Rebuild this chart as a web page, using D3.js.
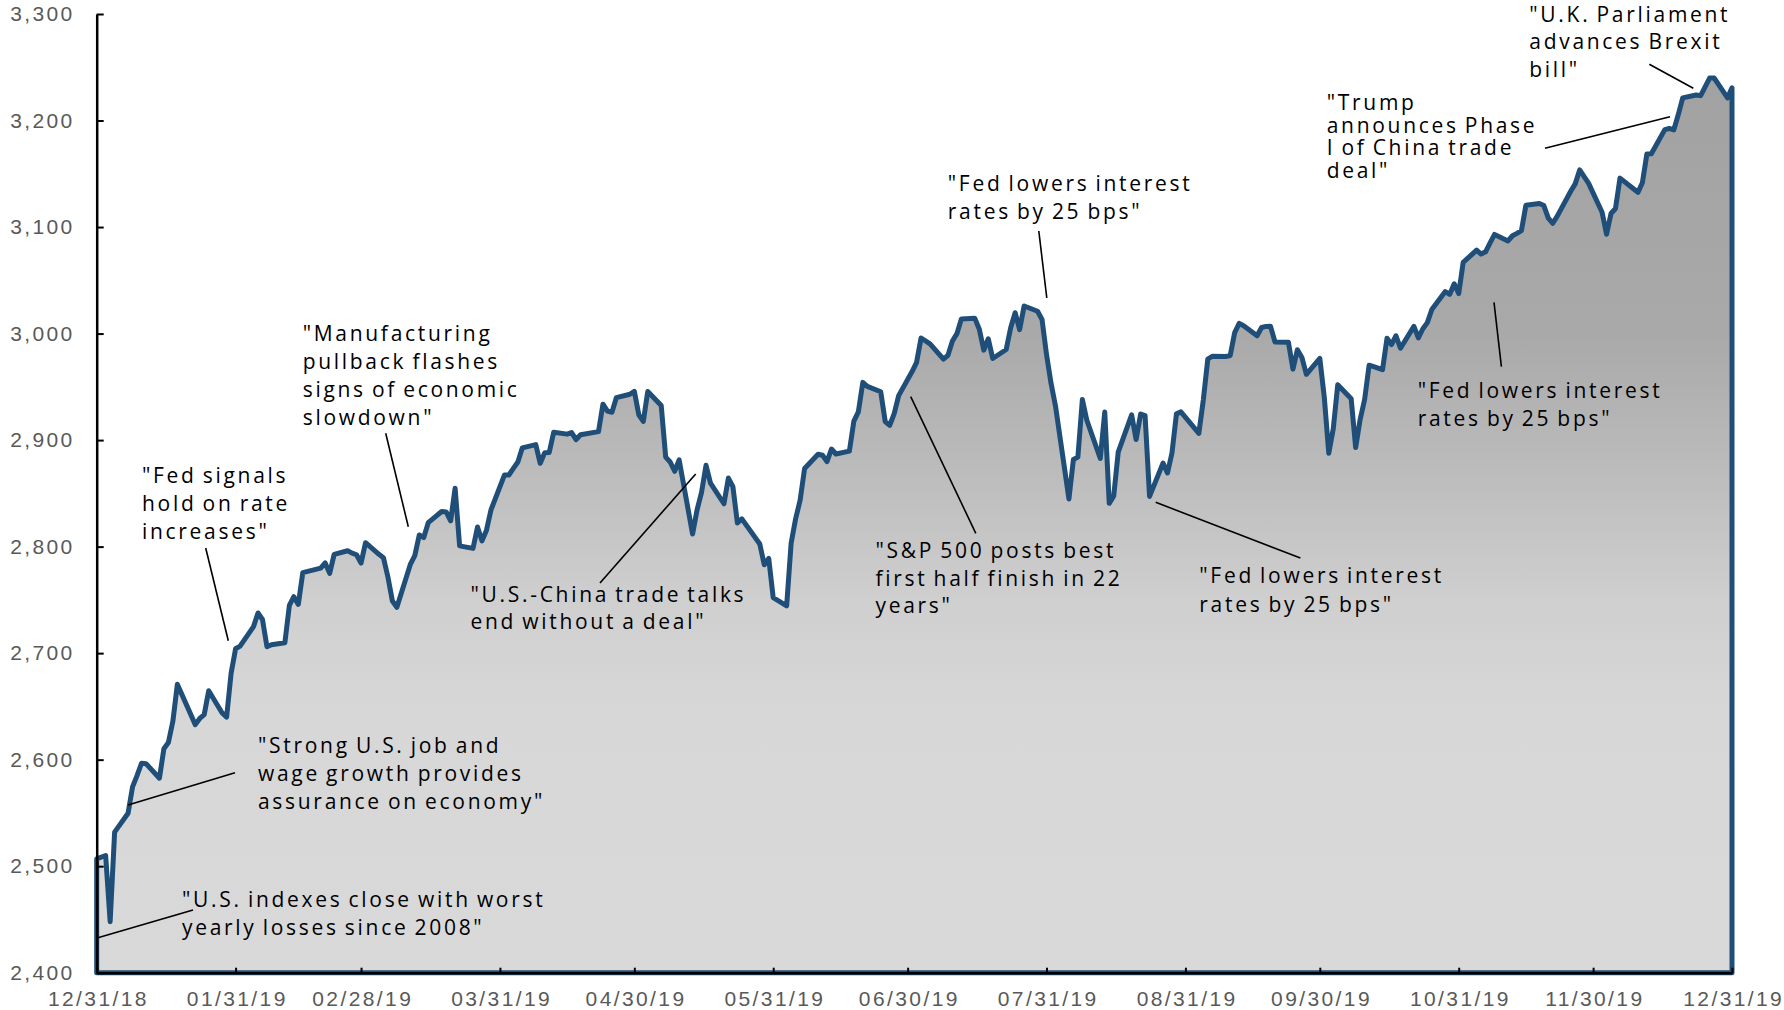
<!DOCTYPE html>
<html><head><meta charset="utf-8">
<script src="https://cdn.jsdelivr.net/npm/d3@7"></script>
<style>body{margin:0;background:#fff}svg{display:block}</style>
</head><body>
<svg id="chart" width="1784" height="1010"></svg>
<script>
// ---------- DATA (S&P 500 daily closes) ----------
const dec18Days = [31];
const dec18Closes = [2506.85];
const jan19Days = [2,3,4,7,8,9,10,11,14,15,16,17,18,22,23,24,25,28,29,30,31];
const jan19Closes = [2510.03,2447.89,2531.94,2549.69,2574.41,2584.96,2596.64,2596.26,2582.61,2610.30,2616.10,2635.96,2670.71,2632.90,2638.70,2642.33,2664.76,2643.85,2640.00,2681.05,2704.10];
const feb19Days = [1,4,5,6,7,8,11,12,13,14,15,19,20,21,22,25,26,27,28];
const feb19Closes = [2706.53,2724.87,2737.70,2731.61,2706.05,2707.88,2709.80,2744.73,2753.03,2745.73,2775.60,2779.76,2784.70,2774.88,2792.67,2796.11,2793.90,2792.38,2784.49];
const mar19Days = [1,4,5,6,7,8,11,12,13,14,15,18,19,20,21,22,25,26,27,28,29];
const mar19Closes = [2803.69,2792.81,2789.65,2771.45,2748.93,2743.07,2783.30,2791.52,2810.92,2808.48,2822.48,2832.94,2832.57,2824.23,2854.88,2800.71,2798.36,2818.46,2805.37,2815.44,2834.40];
const apr19Days = [1,2,3,4,5,8,9,10,11,12,15,16,17,18,22,23,24,25,26,29,30];
const apr19Closes = [2867.19,2867.24,2873.40,2879.39,2892.74,2895.77,2878.20,2888.21,2888.32,2907.41,2905.58,2907.06,2900.45,2905.03,2907.97,2933.68,2927.25,2926.17,2939.88,2943.03,2945.83];
const may19Days = [1,2,3,6,7,8,9,10,13,14,15,16,17,20,21,22,23,24,28,29,30,31];
const may19Closes = [2923.73,2917.52,2945.64,2932.47,2884.05,2879.42,2870.72,2881.40,2811.87,2834.41,2850.96,2876.32,2859.53,2840.23,2864.36,2856.27,2822.24,2826.06,2802.39,2783.02,2788.86,2752.06];
const jun19Days = [3,4,5,6,7,10,11,12,13,14,17,18,19,20,21,24,25,26,27,28];
const jun19Closes = [2744.45,2803.27,2826.15,2843.49,2873.34,2886.73,2885.72,2879.84,2891.64,2886.98,2889.67,2917.75,2926.46,2954.18,2950.46,2945.35,2917.38,2913.78,2924.92,2941.76];
const jul19Days = [1,2,3,5,8,9,10,11,12,15,16,17,18,19,22,23,24,25,26,29,30,31];
const jul19Closes = [2964.33,2973.01,2995.82,2990.41,2975.95,2979.63,2993.07,2999.91,3013.77,3014.30,3004.04,2984.42,2995.11,2976.61,2985.03,3005.47,3019.56,3003.67,3025.86,3020.97,3013.18,2980.38];
const aug19Days = [1,2,5,6,7,8,9,12,13,14,15,16,19,20,21,22,23,26,27,28,29,30];
const aug19Closes = [2953.56,2932.05,2844.74,2881.77,2883.98,2938.09,2918.65,2882.70,2926.32,2840.60,2847.60,2888.68,2923.65,2900.51,2924.43,2922.95,2847.11,2878.38,2869.16,2887.94,2924.58,2926.46];
const sep19Days = [3,4,5,6,9,10,11,12,13,16,17,18,19,20,23,24,25,26,27,30];
const sep19Closes = [2906.27,2937.78,2976.00,2978.71,2978.43,2979.39,3000.93,3009.57,3007.39,2997.96,3005.70,3006.73,3006.79,2992.07,2991.78,2966.60,2984.87,2977.62,2961.79,2976.74];
const oct19Days = [1,2,3,4,7,8,9,10,11,14,15,16,17,18,21,22,23,24,25,28,29,30,31];
const oct19Closes = [2940.25,2887.61,2910.63,2952.01,2938.79,2893.06,2919.40,2938.13,2970.27,2966.15,2995.68,2989.69,2997.95,2986.20,3006.72,2995.99,3004.52,3010.29,3022.55,3039.42,3036.89,3046.77,3037.56];
const nov19Days = [1,4,5,6,7,8,11,12,13,14,15,18,19,20,21,22,25,26,27,29];
const nov19Closes = [3066.91,3078.27,3074.62,3076.78,3085.18,3093.08,3087.01,3091.84,3094.04,3096.63,3120.46,3122.03,3120.18,3108.46,3103.54,3110.29,3133.64,3140.52,3153.63,3140.98];
const dec19Days = [2,3,4,5,6,9,10,11,12,13,16,17,18,19,20,23,24,26,27,30,31];
const dec19Closes = [3113.87,3093.20,3112.76,3117.43,3145.91,3135.96,3132.52,3141.63,3168.57,3168.80,3191.45,3192.52,3191.14,3205.37,3221.22,3224.01,3223.38,3239.91,3240.02,3221.29,3230.78];

const xTickLabels = ["12/31/18","01/31/19","02/28/19","03/31/19","04/30/19","05/31/19","06/30/19","07/31/19","08/31/19","09/30/19","10/31/19","11/30/19","12/31/19"];
const yTickValues = [2400,2500,2600,2700,2800,2900,3000,3100,3200,3300];

const annotationTexts = [
  ['"U.S. indexes close with worst', 'yearly losses since 2008"'],
  ['"Strong U.S. job and', 'wage growth provides', 'assurance on economy"'],
  ['"Fed signals', 'hold on rate', 'increases"'],
  ['"Manufacturing', 'pullback flashes', 'signs of economic', 'slowdown"'],
  ['"U.S.-China trade talks', 'end without a deal"'],
  ['"S&P 500 posts best', 'first half finish in 22', 'years"'],
  ['"Fed lowers interest', 'rates by 25 bps"'],
  ['"Fed lowers interest', 'rates by 25 bps"'],
  ['"Fed lowers interest', 'rates by 25 bps"'],
  ['"Trump', 'announces Phase', 'I of China trade', 'deal"'],
  ['"U.K. Parliament', 'advances Brexit', 'bill"']
];

// ---------- LAYOUT / STYLE ----------
const annotationLayout = [
  {x:182, y:907, lh:27.5, leader:[97,938,193,910]},
  {x:258, y:753, lh:28, leader:[128,805,235,772.7]},
  {x:142, y:483, lh:28, leader:[205.7,548,228.3,640.7]},
  {x:302.7, y:341, lh:28, leader:[385.7,433.3,408.3,526.7]},
  {x:470.5, y:601.5, lh:27.5, leader:[600,583,695.7,474]},
  {x:875.5, y:558, lh:27.5, leader:[910.7,396.7,975.8,533.3]},
  {x:947.8, y:191, lh:28, leader:[1038.8,231,1046.8,298]},
  {x:1199.3, y:583, lh:28.5, leader:[1155.7,502.3,1300.4,558]},
  {x:1417.7, y:397.7, lh:28, leader:[1494,302.3,1501.4,366.7]},
  {x:1326.7, y:110, lh:22.6, leader:[1545,148.3,1670,116.7]},
  {x:1529.3, y:21.7, lh:27.5, leader:[1649.3,64.3,1693.3,88.3]}
];
const LINE_COLOR = "#1f4e79";
const gradientStops = [
  {v:3300, c:"#a0a0a0"}, {v:3000, c:"#a9a9a9"}, {v:2870, c:"#bcbcbc"},
  {v:2750, c:"#cfcfcf"}, {v:2650, c:"#d7d7d7"}, {v:2400, c:"#d9d9d9"}
];

// ---------- BUILD ----------
const monthSets = [
  [2018,12,dec18Days,dec18Closes],[2019,1,jan19Days,jan19Closes],[2019,2,feb19Days,feb19Closes],
  [2019,3,mar19Days,mar19Closes],[2019,4,apr19Days,apr19Closes],[2019,5,may19Days,may19Closes],
  [2019,6,jun19Days,jun19Closes],[2019,7,jul19Days,jul19Closes],[2019,8,aug19Days,aug19Closes],
  [2019,9,sep19Days,sep19Closes],[2019,10,oct19Days,oct19Closes],[2019,11,nov19Days,nov19Closes],
  [2019,12,dec19Days,dec19Closes]
];
const series = [];
monthSets.forEach(([yr,mo,days,vals]) => days.forEach((d,i) => series.push({date:new Date(yr,mo-1,d), value:vals[i]})));

const parse = d3.timeParse("%m/%d/%y");
const xTickDates = xTickLabels.map(parse);

const svg = d3.select("#chart");
const x = d3.scaleTime().domain([xTickDates[0], xTickDates[xTickDates.length-1]]).range([96.7, 1732]);
const y = d3.scaleLinear().domain([2400, 3300]).range([972.7, 14]);

const defs = svg.append("defs");
const grad = defs.append("linearGradient").attr("id","fillGrad")
  .attr("gradientUnits","userSpaceOnUse").attr("x1",0).attr("x2",0)
  .attr("y1",y(3300)).attr("y2",y(2400));
gradientStops.forEach(s => grad.append("stop")
  .attr("offset", (y(s.v)-y(3300))/(y(2400)-y(3300))).attr("stop-color", s.c));

const area = d3.area().x(d=>x(d.date)).y0(y(2400)).y1(d=>y(d.value));
svg.append("path").datum(series).attr("d", area)
  .attr("fill","url(#fillGrad)").attr("stroke",LINE_COLOR).attr("stroke-width",5)
  .attr("stroke-linejoin","round");

// axes
const yAxis = d3.axisLeft(y).tickValues(yTickValues).tickFormat(d3.format(","))
  .tickSize(-7).tickSizeOuter(0).tickPadding(22);
const gy = svg.append("g").attr("transform",`translate(${x.range()[0]},0)`).call(yAxis);
const xAxis = d3.axisBottom(x).tickValues(xTickDates).tickFormat(d3.timeFormat("%m/%d/%y"))
  .tickSize(-5).tickSizeOuter(0).tickPadding(18);
const gx = svg.append("g").attr("transform",`translate(0,${y(2400)})`).call(xAxis);
[gx, gy].forEach(g => {
  g.select(".domain").attr("stroke","#000").attr("stroke-width",2.5);
  g.selectAll(".tick line").attr("stroke","#000").attr("stroke-width",2);
  g.selectAll(".tick text").attr("fill","#595959")
    .style("font-family","'Liberation Sans', Arial, sans-serif").style("font-size","21px")
    .style("letter-spacing","2.4px");
});
gx.selectAll(".tick text").attr("dx", 1.2);

// annotations
const notes = svg.append("g");
annotationTexts.forEach((lines, i) => {
  const L = annotationLayout[i];
  notes.append("line").attr("x1",L.leader[0]).attr("y1",L.leader[1])
    .attr("x2",L.leader[2]).attr("y2",L.leader[3]).attr("stroke","#000").attr("stroke-width",1.6);
  const t = notes.append("text").attr("x",L.x).attr("y",L.y)
    .style("font-family","'Open Sans', sans-serif").style("font-size","21px")
    .style("letter-spacing","2.7px").style("word-spacing","-2px").attr("fill","#000");
  lines.forEach((ln, j) => t.append("tspan").attr("x",L.x).attr("y",L.y + j*L.lh).text(ln));
});
</script>
</body></html>
